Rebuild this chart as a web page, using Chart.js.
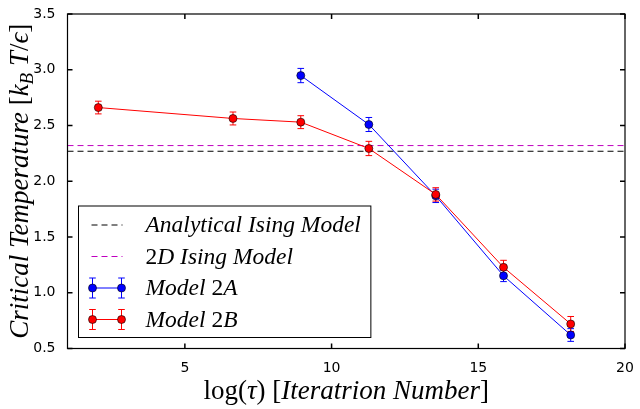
<!DOCTYPE html>
<html>
<head>
<meta charset="utf-8">
<script src="https://cdn.jsdelivr.net/npm/chart.js@4.4.1/dist/chart.umd.min.js"></script>
<style>
    html, body { margin: 0; padding: 0; background: #fff; }
</style>
</head>
<body>
<canvas id="tcChart" width="640" height="409"></canvas>
<script>
// values
const logIterA = [8.95, 11.27, 13.55, 15.86, 18.15];
const tcModelA = [2.948, 2.509, 1.869, 1.152, 0.621];
const errModelA = [0.064, 0.063, 0.060, 0.052, 0.057];

const logIterB = [2.05, 6.64, 8.95, 11.27, 13.55, 15.86, 18.15];
const tcModelB = [2.661, 2.563, 2.530, 2.294, 1.882, 1.228, 0.720];
const errModelB = [0.057, 0.058, 0.058, 0.064, 0.060, 0.063, 0.067];

const tcAnalytical = 2.269;
const tc2DIsing = 2.32;

const xRange = [1, 20];
const yRange = [0.5, 3.5];
const xTickValues = [5, 10, 15, 20];
const yTickValues = [0.5, 1.0, 1.5, 2.0, 2.5, 3.0, 3.5];

const legendLabels = ['Analytical Ising Model', '2D Ising Model', 'Model 2A', 'Model 2B'];

const serif = '"Liberation Serif", "Times New Roman", serif';
const canvas = document.getElementById('tcChart');

const toPoints = (xs, ys) => xs.map((x, i) => ({ x: x, y: ys[i] }));
const hLine = (v) => [{ x: xRange[0], y: v }, { x: xRange[1], y: v }];

// mathtext look: digits / brackets upright, letters italic
const mathSegs = (text, size) => text.split(/([0-9()\[\]\/]+)/).filter(Boolean).map(t => ({
    text: t,
    font: (/^[0-9()\[\]\/]+$/.test(t) ? '' : 'italic ') + size + 'px ' + serif
}));
const upright = (text, size) => ({ text: text, font: size + 'px ' + serif });

const drawRich = (ctx, segs, x, y, align) => {
    let total = 0;
    segs.forEach(s => {
        ctx.font = s.font;
        s.w = ctx.measureText(s.text).width;
        total += s.w;
    });
    let cx = align === 'center' ? x - total / 2 : x;
    segs.forEach(s => {
        ctx.font = s.font;
        ctx.fillText(s.text, cx, y + (s.dy || 0));
        cx += s.w;
    });
    return total;
};

const drawErrorBar = (ctx, px, yTop, yBot, color) => {
    const cap = 3.3;
    ctx.strokeStyle = color;
    ctx.lineWidth = 1;
    ctx.beginPath();
    ctx.moveTo(px, yTop); ctx.lineTo(px, yBot);
    ctx.moveTo(px - cap, yTop); ctx.lineTo(px + cap, yTop);
    ctx.moveTo(px - cap, yBot); ctx.lineTo(px + cap, yBot);
    ctx.stroke();
};

const drawMarker = (ctx, px, py, color) => {
    ctx.beginPath();
    ctx.arc(px, py, 4, 0, Math.PI * 2);
    ctx.fillStyle = color;
    ctx.fill();
    ctx.lineWidth = 0.6;
    ctx.strokeStyle = '#000';
    ctx.stroke();
};

const errorBarPlugin = {
    id: 'errorBars',
    beforeDatasetsDraw(chart) {
        const { ctx, scales: { x, y } } = chart;
        ctx.save();
        chart.data.datasets.forEach(ds => {
            if (!ds.errors) return;
            ds.data.forEach((p, i) => {
                const e = ds.errors[i];
                drawErrorBar(ctx, x.getPixelForValue(p.x), y.getPixelForValue(p.y + e), y.getPixelForValue(p.y - e), ds.borderColor);
            });
        });
        ctx.restore();
    }
};

const framePlugin = {
    id: 'frame',
    afterDraw(chart) {
        const { ctx, chartArea: a, scales: { x, y } } = chart;
        const len = 5;
        ctx.save();
        ctx.strokeStyle = '#000';
        ctx.lineWidth = 1.2;
        ctx.strokeRect(a.left, a.top, a.right - a.left, a.bottom - a.top);
        ctx.lineWidth = 1.5;
        ctx.beginPath();
        xTickValues.forEach(v => {
            const px = x.getPixelForValue(v);
            ctx.moveTo(px, a.bottom); ctx.lineTo(px, a.bottom - len);
            ctx.moveTo(px, a.top); ctx.lineTo(px, a.top + len);
        });
        yTickValues.forEach(v => {
            const py = y.getPixelForValue(v);
            ctx.moveTo(a.left, py); ctx.lineTo(a.left + len, py);
            ctx.moveTo(a.right, py); ctx.lineTo(a.right - len, py);
        });
        ctx.stroke();
        ctx.restore();
    }
};

const titlePlugin = {
    id: 'axisTitles',
    afterDraw(chart) {
        const { ctx, chartArea: a } = chart;
        ctx.save();
        ctx.fillStyle = '#000';
        ctx.textBaseline = 'alphabetic';
        // x title
        const xSegs = [upright('log', 27)].concat(mathSegs('(τ) [Iteratrion Number]', 27));
        drawRich(ctx, xSegs, (a.left + a.right) / 2, 399, 'center');
        // y title, rotated
        const ySegs = mathSegs('Critical Temperature [k', 27)
            .concat([{ text: 'B', font: 'italic 19px ' + serif, dy: 5 }])
            .concat(mathSegs(' T/ϵ]', 27));
        ctx.translate(28, (a.top + a.bottom) / 2);
        ctx.rotate(-Math.PI / 2);
        drawRich(ctx, ySegs, 0, 0, 'center');
        ctx.restore();
    }
};

const legendPlugin = {
    id: 'boxLegend',
    afterDraw(chart) {
        const { ctx, chartArea: a } = chart;
        const size = 23.5;
        const padL = 13, handle = 31, gap = 23, padR = 10;
        const rowH = 31.5, firstRow = 19, lastPad = 18;
        ctx.save();
        const rows = legendLabels.map(t => mathSegs(t, size));
        let maxW = 0;
        rows.forEach(segs => {
            let w = 0;
            segs.forEach(s => { ctx.font = s.font; w += ctx.measureText(s.text).width; });
            maxW = Math.max(maxW, w);
        });
        const boxW = padL + handle + gap + maxW + padR;
        const boxH = firstRow + rowH * (rows.length - 1) + lastPad;
        const left = a.left + 11;
        const top = a.bottom - 11 - boxH;
        ctx.fillStyle = '#fff';
        ctx.fillRect(left, top, boxW, boxH);
        ctx.strokeStyle = '#000';
        ctx.lineWidth = 1;
        ctx.strokeRect(left, top, boxW, boxH);

        const ds = chart.data.datasets;
        ds.forEach((d, r) => {
            const cy = top + firstRow + r * rowH;
            const x0 = left + padL, x1 = x0 + handle;
            ctx.strokeStyle = d.borderColor;
            ctx.lineWidth = 1;
            ctx.setLineDash(d.borderDash || []);
            ctx.beginPath();
            ctx.moveTo(x0, cy); ctx.lineTo(x1, cy);
            ctx.stroke();
            ctx.setLineDash([]);
            if (d.errors) {
                [x0 + 1, x1 - 1].forEach(px => {
                    drawErrorBar(ctx, px, cy - 10, cy + 10, d.borderColor);
                    drawMarker(ctx, px, cy, d.pointBackgroundColor);
                });
            }
            ctx.fillStyle = '#000';
            ctx.textBaseline = 'middle';
            drawRich(ctx, rows[r], x1 + gap, cy + 1, 'left');
        });
        ctx.restore();
    }
};

new Chart(canvas, {
    type: 'scatter',
    data: {
        datasets: [{
            label: legendLabels[0],
            data: hLine(tcAnalytical),
            borderColor: '#000000',
            borderWidth: 1,
            borderDash: [6, 4],
            showLine: true,
            pointRadius: 0,
            order: 3
        }, {
            label: legendLabels[1],
            data: hLine(tc2DIsing),
            borderColor: '#bf00bf',
            borderWidth: 1,
            borderDash: [6, 4],
            showLine: true,
            pointRadius: 0,
            order: 2
        }, {
            label: legendLabels[2],
            data: toPoints(logIterA, tcModelA),
            errors: errModelA,
            borderColor: '#0000ff',
            backgroundColor: '#0000ff',
            pointBackgroundColor: '#0000ff',
            pointBorderColor: '#000000',
            pointBorderWidth: 0.6,
            pointRadius: 4,
            borderWidth: 1,
            showLine: true,
            order: 1
        }, {
            label: legendLabels[3],
            data: toPoints(logIterB, tcModelB),
            errors: errModelB,
            borderColor: '#ff0000',
            backgroundColor: '#ff0000',
            pointBackgroundColor: '#ff0000',
            pointBorderColor: '#000000',
            pointBorderWidth: 0.6,
            pointRadius: 4,
            borderWidth: 1,
            showLine: true,
            order: 0
        }]
    },
    options: {
        responsive: false,
        animation: false,
        layout: { padding: { top: 14, right: 15, left: 0, bottom: 0 } },
        plugins: {
            legend: { display: false },
            tooltip: { enabled: false }
        },
        scales: {
            x: {
                type: 'linear',
                min: xRange[0],
                max: xRange[1],
                grid: { display: false },
                border: { display: false },
                ticks: {
                    color: '#000',
                    font: { family: '"DejaVu Sans"', size: 14 },
                    padding: 3,
                    maxRotation: 0,
                    autoSkip: false
                },
                afterBuildTicks: (scale) => { scale.ticks = xTickValues.map(v => ({ value: v })); },
                afterFit: (scale) => { scale.height = 60.5; }
            },
            y: {
                type: 'linear',
                min: yRange[0],
                max: yRange[1],
                grid: { display: false },
                border: { display: false },
                ticks: {
                    color: '#000',
                    font: { family: '"DejaVu Sans"', size: 14 },
                    padding: 4,
                    autoSkip: false,
                    callback: (v) => Number(v).toFixed(1)
                },
                afterBuildTicks: (scale) => { scale.ticks = yTickValues.map(v => ({ value: v })); },
                afterFit: (scale) => { scale.width = 67.5; }
            }
        }
    },
    plugins: [errorBarPlugin, framePlugin, titlePlugin, legendPlugin]
});
</script>
</body>
</html>
